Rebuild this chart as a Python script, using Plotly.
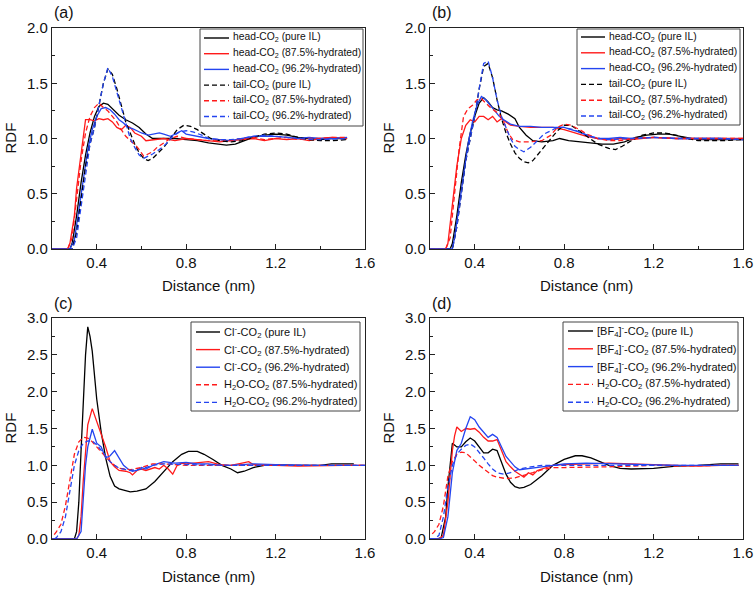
import plotly.graph_objects as go

# ---------------- Panel (a) ----------------
a_head_pure_x = [0.2, 0.28, 0.29, 0.31, 0.33, 0.35, 0.37, 0.39, 0.41, 0.43, 0.45, 0.47, 0.50, 0.53, 0.56, 0.59, 0.62, 0.65, 0.70, 0.75, 0.80, 0.85, 0.90, 0.95, 0.98, 1.02, 1.06, 1.10, 1.15, 1.20, 1.25, 1.30, 1.35, 1.40, 1.45, 1.52]
a_head_pure_y = [0, 0, 0.05, 0.30, 0.60, 0.85, 1.05, 1.20, 1.29, 1.32, 1.31, 1.27, 1.21, 1.17, 1.14, 1.10, 1.04, 1.00, 1.00, 1.00, 0.99, 0.98, 0.96, 0.95, 0.94, 0.95, 0.98, 1.01, 1.03, 1.04, 1.03, 1.01, 1.00, 0.99, 1.00, 1.00]

a_head_875_x = [0.2, 0.27, 0.28, 0.30, 0.31, 0.32, 0.33, 0.34, 0.35, 0.37, 0.39, 0.41, 0.43, 0.45, 0.47, 0.49, 0.51, 0.53, 0.55, 0.57, 0.60, 0.62, 0.65, 0.70, 0.75, 0.80, 0.85, 0.90, 0.95, 1.00, 1.05, 1.10, 1.15, 1.20, 1.25, 1.30, 1.35, 1.40, 1.45, 1.52]
a_head_875_y = [0, 0, 0.05, 0.30, 0.55, 0.70, 0.85, 1.00, 1.17, 1.17, 1.16, 1.18, 1.17, 1.18, 1.15, 1.10, 1.08, 1.12, 1.10, 1.05, 1.02, 0.98, 0.99, 1.00, 0.98, 1.00, 0.99, 0.98, 0.97, 0.98, 0.99, 1.00, 0.98, 1.00, 0.99, 1.00, 0.98, 1.00, 1.01, 1.00]

a_head_962_x = [0.2, 0.28, 0.30, 0.32, 0.34, 0.36, 0.38, 0.40, 0.42, 0.44, 0.46, 0.48, 0.50, 0.52, 0.54, 0.56, 0.58, 0.60, 0.63, 0.66, 0.68, 0.70, 0.73, 0.76, 0.78, 0.80, 0.85, 0.90, 0.95, 1.00, 1.05, 1.10, 1.15, 1.20, 1.25, 1.30, 1.35, 1.40, 1.45, 1.52]
a_head_962_y = [0, 0, 0.08, 0.35, 0.65, 0.90, 1.08, 1.20, 1.27, 1.28, 1.26, 1.22, 1.17, 1.14, 1.10, 1.09, 1.07, 1.05, 1.03, 1.04, 1.05, 1.04, 1.02, 1.05, 1.07, 1.04, 1.02, 1.00, 0.99, 0.98, 1.00, 1.02, 1.02, 1.02, 1.01, 1.00, 1.01, 1.00, 1.00, 1.01]

a_tail_pure_x = [0.2, 0.29, 0.31, 0.33, 0.35, 0.37, 0.39, 0.41, 0.43, 0.45, 0.47, 0.49, 0.51, 0.53, 0.55, 0.57, 0.59, 0.61, 0.63, 0.65, 0.67, 0.70, 0.73, 0.76, 0.79, 0.82, 0.85, 0.88, 0.91, 0.95, 1.00, 1.05, 1.10, 1.15, 1.20, 1.25, 1.30, 1.35, 1.40, 1.45, 1.52]
a_tail_pure_y = [0, 0, 0.15, 0.45, 0.75, 0.95, 1.10, 1.30, 1.50, 1.63, 1.58, 1.45, 1.30, 1.15, 1.05, 0.95, 0.87, 0.82, 0.80, 0.82, 0.86, 0.92, 1.00, 1.08, 1.12, 1.11, 1.08, 1.04, 1.00, 0.98, 0.97, 0.98, 1.01, 1.04, 1.05, 1.04, 1.01, 0.99, 0.98, 0.98, 0.99]

a_tail_875_x = [0.2, 0.27, 0.29, 0.31, 0.33, 0.35, 0.37, 0.39, 0.41, 0.43, 0.45, 0.47, 0.49, 0.51, 0.53, 0.55, 0.57, 0.59, 0.61, 0.63, 0.65, 0.67, 0.70, 0.73, 0.76, 0.80, 0.85, 0.90, 0.95, 1.00, 1.05, 1.10, 1.15, 1.20, 1.25, 1.30, 1.35, 1.40, 1.45, 1.52]
a_tail_875_y = [0, 0, 0.10, 0.45, 0.80, 1.05, 1.20, 1.28, 1.32, 1.28, 1.25, 1.20, 1.15, 1.08, 1.02, 0.98, 0.95, 0.90, 0.84, 0.86, 0.88, 0.92, 0.96, 1.00, 1.02, 1.00, 0.99, 0.98, 0.99, 0.98, 1.00, 1.01, 0.99, 1.00, 1.01, 0.99, 1.00, 1.00, 1.01, 1.01]

a_tail_962_x = [0.2, 0.29, 0.31, 0.33, 0.35, 0.37, 0.39, 0.41, 0.43, 0.45, 0.47, 0.49, 0.51, 0.53, 0.55, 0.57, 0.59, 0.61, 0.63, 0.65, 0.68, 0.71, 0.74, 0.77, 0.80, 0.83, 0.87, 0.90, 0.95, 1.00, 1.05, 1.10, 1.15, 1.20, 1.25, 1.30, 1.40, 1.52]
a_tail_962_y = [0, 0, 0.10, 0.40, 0.70, 0.95, 1.10, 1.30, 1.50, 1.64, 1.56, 1.42, 1.28, 1.12, 1.00, 0.92, 0.85, 0.82, 0.84, 0.86, 0.90, 0.95, 1.02, 1.06, 1.07, 1.06, 1.03, 1.00, 0.99, 0.99, 1.00, 1.02, 1.03, 1.02, 1.01, 1.00, 0.99, 1.00]

# ---------------- Panel (b) ----------------
b_head_pure_x = [0.2, 0.29, 0.30, 0.32, 0.34, 0.36, 0.38, 0.40, 0.42, 0.44, 0.46, 0.48, 0.50, 0.52, 0.55, 0.58, 0.60, 0.63, 0.66, 0.70, 0.75, 0.78, 0.82, 0.87, 0.92, 0.97, 1.02, 1.07, 1.12, 1.17, 1.22, 1.27, 1.32, 1.37, 1.42, 1.50, 1.60]
b_head_pure_y = [0, 0, 0.05, 0.30, 0.60, 0.85, 1.05, 1.20, 1.32, 1.37, 1.33, 1.28, 1.26, 1.25, 1.22, 1.18, 1.10, 1.03, 0.98, 0.97, 0.98, 1.00, 0.98, 0.97, 0.96, 0.95, 0.95, 0.97, 1.01, 1.03, 1.04, 1.04, 1.02, 1.00, 0.99, 0.99, 0.99]

b_head_875_x = [0.2, 0.27, 0.28, 0.30, 0.32, 0.34, 0.36, 0.38, 0.40, 0.42, 0.44, 0.46, 0.48, 0.50, 0.52, 0.54, 0.56, 0.60, 0.65, 0.70, 0.75, 0.80, 0.85, 0.90, 0.95, 1.00, 1.05, 1.10, 1.20, 1.30, 1.40, 1.50, 1.60]
b_head_875_y = [0, 0, 0.05, 0.40, 0.75, 1.00, 1.12, 1.17, 1.15, 1.20, 1.20, 1.17, 1.20, 1.15, 1.18, 1.15, 1.12, 1.11, 1.10, 1.10, 1.10, 1.08, 1.05, 1.02, 1.00, 0.99, 1.00, 0.99, 1.01, 1.00, 1.00, 1.00, 1.00]

b_head_962_x = [0.2, 0.30, 0.31, 0.33, 0.35, 0.37, 0.39, 0.41, 0.43, 0.45, 0.47, 0.49, 0.51, 0.53, 0.56, 0.60, 0.65, 0.70, 0.75, 0.80, 0.85, 0.90, 0.95, 1.00, 1.05, 1.10, 1.20, 1.30, 1.40, 1.50, 1.60]
b_head_962_y = [0, 0, 0.10, 0.40, 0.70, 0.95, 1.15, 1.30, 1.38, 1.35, 1.30, 1.25, 1.20, 1.17, 1.13, 1.11, 1.11, 1.10, 1.10, 1.10, 1.07, 1.03, 1.00, 1.00, 1.01, 1.00, 1.01, 1.00, 1.00, 1.00, 0.99]

b_tail_pure_x = [0.2, 0.30, 0.32, 0.34, 0.36, 0.38, 0.40, 0.42, 0.44, 0.46, 0.48, 0.50, 0.52, 0.54, 0.56, 0.58, 0.60, 0.62, 0.64, 0.66, 0.68, 0.71, 0.74, 0.77, 0.80, 0.83, 0.86, 0.90, 0.95, 1.00, 1.03, 1.06, 1.10, 1.15, 1.20, 1.25, 1.30, 1.35, 1.40, 1.50, 1.60]
b_tail_pure_y = [0, 0, 0.20, 0.50, 0.80, 1.00, 1.20, 1.45, 1.65, 1.68, 1.55, 1.35, 1.18, 1.05, 0.95, 0.87, 0.82, 0.79, 0.78, 0.80, 0.85, 0.92, 1.00, 1.07, 1.12, 1.12, 1.08, 1.02, 0.95, 0.91, 0.90, 0.93, 0.98, 1.03, 1.05, 1.05, 1.03, 1.00, 0.98, 0.98, 0.99]

b_tail_875_x = [0.2, 0.27, 0.29, 0.31, 0.33, 0.35, 0.37, 0.39, 0.41, 0.43, 0.45, 0.47, 0.49, 0.51, 0.53, 0.55, 0.57, 0.60, 0.65, 0.70, 0.74, 0.77, 0.80, 0.83, 0.87, 0.90, 0.95, 1.00, 1.05, 1.10, 1.20, 1.30, 1.40, 1.50, 1.60]
b_tail_875_y = [0, 0, 0.10, 0.50, 0.90, 1.20, 1.27, 1.30, 1.35, 1.36, 1.32, 1.28, 1.25, 1.22, 1.15, 1.05, 0.99, 0.97, 0.97, 0.98, 1.03, 1.10, 1.13, 1.12, 1.08, 1.04, 1.00, 0.98, 0.98, 1.00, 1.01, 1.00, 1.00, 1.00, 1.00]

b_tail_962_x = [0.2, 0.30, 0.32, 0.34, 0.36, 0.38, 0.40, 0.42, 0.44, 0.46, 0.48, 0.50, 0.52, 0.54, 0.56, 0.58, 0.60, 0.62, 0.65, 0.68, 0.71, 0.74, 0.77, 0.80, 0.84, 0.88, 0.92, 0.96, 1.00, 1.10, 1.20, 1.30, 1.40, 1.50, 1.60]
b_tail_962_y = [0, 0, 0.20, 0.50, 0.80, 1.00, 1.20, 1.45, 1.68, 1.70, 1.55, 1.35, 1.20, 1.10, 1.00, 0.93, 0.90, 0.88, 0.92, 0.98, 1.04, 1.07, 1.10, 1.10, 1.08, 1.05, 1.02, 1.00, 0.99, 1.00, 1.01, 1.00, 1.00, 1.00, 0.99]

# ---------------- Panel (c) ----------------
c_cl_pure_x = [0.2, 0.30, 0.31, 0.32, 0.33, 0.34, 0.35, 0.36, 0.37, 0.38, 0.39, 0.40, 0.42, 0.44, 0.46, 0.48, 0.50, 0.52, 0.55, 0.58, 0.62, 0.66, 0.70, 0.74, 0.78, 0.81, 0.85, 0.88, 0.92, 0.96, 1.00, 1.03, 1.06, 1.10, 1.15, 1.20, 1.30, 1.40, 1.45, 1.50, 1.55]
c_cl_pure_y = [0, 0, 0.10, 0.50, 1.20, 1.90, 2.50, 2.88, 2.75, 2.55, 2.20, 1.90, 1.45, 1.10, 0.85, 0.72, 0.68, 0.66, 0.64, 0.65, 0.68, 0.78, 0.92, 1.05, 1.15, 1.19, 1.19, 1.15, 1.08, 1.00, 0.95, 0.90, 0.92, 0.97, 1.00, 1.01, 1.00, 1.00, 1.02, 1.02, 1.02]

c_cl_875_x = [0.2, 0.31, 0.32, 0.33, 0.34, 0.35, 0.36, 0.38, 0.40, 0.42, 0.44, 0.46, 0.48, 0.50, 0.53, 0.55, 0.56, 0.58, 0.60, 0.62, 0.64, 0.66, 0.68, 0.70, 0.72, 0.74, 0.76, 0.78, 0.80, 0.85, 0.90, 0.95, 1.00, 1.05, 1.08, 1.10, 1.15, 1.20, 1.30, 1.40, 1.50, 1.60]
c_cl_875_y = [0, 0, 0.05, 0.30, 0.80, 1.20, 1.55, 1.77, 1.60, 1.45, 1.25, 1.05, 0.98, 0.93, 0.92, 0.90, 0.87, 0.93, 0.95, 0.93, 0.95, 0.97, 0.95, 1.00, 0.95, 0.88, 1.00, 1.03, 1.02, 1.03, 1.05, 1.01, 1.00, 1.03, 1.05, 1.01, 1.00, 1.00, 0.99, 1.00, 1.00, 1.00]

c_cl_962_x = [0.2, 0.31, 0.33, 0.34, 0.35, 0.36, 0.38, 0.40, 0.42, 0.44, 0.46, 0.48, 0.50, 0.52, 0.54, 0.56, 0.58, 0.60, 0.62, 0.65, 0.70, 0.75, 0.80, 0.85, 0.90, 0.95, 1.00, 1.10, 1.20, 1.30, 1.40, 1.50, 1.60]
c_cl_962_y = [0, 0, 0.10, 0.50, 1.00, 1.25, 1.49, 1.30, 1.25, 1.10, 1.13, 1.20, 1.10, 1.00, 0.95, 0.92, 0.93, 0.97, 0.95, 1.00, 1.05, 1.03, 1.04, 1.02, 1.02, 1.00, 1.00, 1.02, 1.01, 1.00, 1.00, 1.00, 1.00]

c_h2o_875_x = [0.21, 0.22, 0.24, 0.26, 0.28, 0.30, 0.32, 0.34, 0.36, 0.38, 0.40, 0.42, 0.44, 0.46, 0.48, 0.50, 0.55, 0.60, 0.65, 0.70, 0.80, 0.90, 1.00, 1.10, 1.20, 1.30, 1.40, 1.50, 1.60]
c_h2o_875_y = [0.06, 0.10, 0.20, 0.45, 0.80, 1.15, 1.32, 1.38, 1.37, 1.32, 1.25, 1.18, 1.12, 1.05, 1.00, 0.96, 0.94, 0.97, 1.02, 1.02, 1.00, 1.00, 1.00, 1.00, 1.00, 0.99, 1.00, 1.00, 1.00]

c_h2o_962_x = [0.21, 0.22, 0.24, 0.26, 0.28, 0.30, 0.32, 0.34, 0.36, 0.38, 0.40, 0.42, 0.44, 0.46, 0.48, 0.50, 0.55, 0.60, 0.65, 0.70, 0.80, 0.90, 1.00, 1.10, 1.20, 1.30, 1.40, 1.50, 1.60]
c_h2o_962_y = [0.0, 0.02, 0.10, 0.30, 0.65, 1.00, 1.20, 1.30, 1.33, 1.33, 1.28, 1.20, 1.12, 1.05, 1.00, 0.96, 0.93, 0.95, 1.00, 1.02, 1.01, 1.00, 1.00, 1.00, 1.00, 1.00, 1.00, 1.00, 1.00]

# ---------------- Panel (d) ----------------
d_bf4_pure_x = [0.2, 0.23, 0.25, 0.27, 0.28, 0.29, 0.30, 0.32, 0.34, 0.36, 0.38, 0.40, 0.42, 0.44, 0.46, 0.48, 0.50, 0.52, 0.54, 0.56, 0.58, 0.60, 0.62, 0.65, 0.70, 0.75, 0.80, 0.85, 0.88, 0.92, 0.96, 1.00, 1.05, 1.10, 1.20, 1.30, 1.40, 1.50, 1.58]
d_bf4_pure_y = [0, 0, 0.02, 0.30, 0.70, 1.05, 1.30, 1.25, 1.25, 1.32, 1.37, 1.33, 1.25, 1.17, 1.17, 1.22, 1.20, 1.05, 0.88, 0.77, 0.71, 0.69, 0.70, 0.74, 0.86, 1.00, 1.08, 1.13, 1.13, 1.10, 1.05, 1.00, 0.96, 0.95, 0.96, 0.99, 1.00, 1.02, 1.02]

d_bf4_875_x = [0.2, 0.24, 0.26, 0.28, 0.30, 0.31, 0.32, 0.34, 0.36, 0.38, 0.40, 0.42, 0.44, 0.46, 0.48, 0.50, 0.52, 0.54, 0.56, 0.58, 0.60, 0.62, 0.64, 0.66, 0.68, 0.70, 0.75, 0.80, 0.90, 1.00, 1.10, 1.20, 1.30, 1.40, 1.50, 1.58]
d_bf4_875_y = [0, 0, 0.05, 0.50, 1.20, 1.40, 1.52, 1.46, 1.50, 1.49, 1.50, 1.45, 1.38, 1.33, 1.33, 1.35, 1.20, 1.05, 0.98, 0.92, 0.88, 0.84, 0.90, 0.87, 0.93, 0.95, 1.00, 1.01, 1.02, 1.03, 1.02, 1.01, 1.00, 0.99, 1.00, 1.00]

d_bf4_962_x = [0.2, 0.24, 0.26, 0.28, 0.30, 0.32, 0.34, 0.36, 0.38, 0.40, 0.42, 0.44, 0.46, 0.48, 0.50, 0.52, 0.54, 0.56, 0.58, 0.60, 0.62, 0.65, 0.70, 0.75, 0.80, 0.90, 1.00, 1.10, 1.20, 1.30, 1.40, 1.50, 1.58]
d_bf4_962_y = [0, 0, 0.02, 0.30, 0.90, 1.20, 1.30, 1.50, 1.66, 1.62, 1.52, 1.45, 1.38, 1.42, 1.38, 1.25, 1.12, 1.05, 0.98, 0.94, 0.95, 0.96, 0.98, 1.00, 1.02, 1.03, 1.02, 1.02, 1.01, 1.00, 1.00, 1.00, 1.00]

d_h2o_875_x = [0.21, 0.22, 0.24, 0.26, 0.28, 0.30, 0.32, 0.34, 0.36, 0.38, 0.40, 0.42, 0.44, 0.46, 0.48, 0.50, 0.54, 0.58, 0.62, 0.66, 0.70, 0.75, 0.80, 0.90, 1.00, 1.10, 1.20, 1.30, 1.40, 1.50, 1.58]
d_h2o_875_y = [0.07, 0.10, 0.20, 0.45, 0.85, 1.05, 1.15, 1.18, 1.17, 1.12, 1.06, 1.00, 0.95, 0.90, 0.86, 0.84, 0.82, 0.83, 0.86, 0.90, 0.94, 0.97, 0.97, 0.97, 0.98, 0.99, 1.00, 0.99, 1.00, 1.00, 1.00]

d_h2o_962_x = [0.2, 0.22, 0.24, 0.26, 0.28, 0.30, 0.32, 0.34, 0.36, 0.38, 0.40, 0.42, 0.44, 0.46, 0.48, 0.50, 0.53, 0.56, 0.60, 0.65, 0.70, 0.80, 0.90, 1.00, 1.10, 1.20, 1.30, 1.40, 1.50, 1.58]
d_h2o_962_y = [0, 0, 0.05, 0.30, 0.70, 1.00, 1.15, 1.22, 1.27, 1.29, 1.25, 1.18, 1.10, 1.02, 0.95, 0.90, 0.88, 0.90, 0.95, 0.98, 1.00, 1.00, 1.00, 0.99, 0.99, 1.00, 1.00, 1.00, 1.00, 1.00]

x_tick_vals = [0.4, 0.8, 1.2, 1.6]
panel_labels = ["(a)", "(b)", "(c)", "(d)"]
x_title = "Distance (nm)"
y_title = "RDF"

BLACK = "#000000"
RED = "#ff1a1a"
BLUE = "#2445f0"
CO2 = "CO<sub>2</sub>"

panels = [
    ("x", "y", [
        (a_head_pure_x, a_head_pure_y, f"head-{CO2} (pure IL)", BLACK, "solid"),
        (a_head_875_x, a_head_875_y, f"head-{CO2} (87.5%-hydrated)", RED, "solid"),
        (a_head_962_x, a_head_962_y, f"head-{CO2} (96.2%-hydrated)", BLUE, "solid"),
        (a_tail_pure_x, a_tail_pure_y, f"tail-{CO2} (pure IL)", BLACK, "dash"),
        (a_tail_875_x, a_tail_875_y, f"tail-{CO2} (87.5%-hydrated)", RED, "dash"),
        (a_tail_962_x, a_tail_962_y, f"tail-{CO2} (96.2%-hydrated)", BLUE, "dash"),
    ]),
    ("x2", "y2", [
        (b_head_pure_x, b_head_pure_y, f"head-{CO2} (pure IL)", BLACK, "solid"),
        (b_head_875_x, b_head_875_y, f"head-{CO2} (87.5%-hydrated)", RED, "solid"),
        (b_head_962_x, b_head_962_y, f"head-{CO2} (96.2%-hydrated)", BLUE, "solid"),
        (b_tail_pure_x, b_tail_pure_y, f"tail-{CO2} (pure IL)", BLACK, "dash"),
        (b_tail_875_x, b_tail_875_y, f"tail-{CO2} (87.5%-hydrated)", RED, "dash"),
        (b_tail_962_x, b_tail_962_y, f"tail-{CO2} (96.2%-hydrated)", BLUE, "dash"),
    ]),
    ("x3", "y3", [
        (c_cl_pure_x, c_cl_pure_y, f"Cl<sup>-</sup>-{CO2} (pure IL)", BLACK, "solid"),
        (c_cl_875_x, c_cl_875_y, f"Cl<sup>-</sup>-{CO2} (87.5%-hydrated)", RED, "solid"),
        (c_cl_962_x, c_cl_962_y, f"Cl<sup>-</sup>-{CO2} (96.2%-hydrated)", BLUE, "solid"),
        (c_h2o_875_x, c_h2o_875_y, f"H<sub>2</sub>O-{CO2} (87.5%-hydrated)", RED, "dash"),
        (c_h2o_962_x, c_h2o_962_y, f"H<sub>2</sub>O-{CO2} (96.2%-hydrated)", BLUE, "dash"),
    ]),
    ("x4", "y4", [
        (d_bf4_pure_x, d_bf4_pure_y, f"[BF<sub>4</sub>]<sup>-</sup>-{CO2} (pure IL)", BLACK, "solid"),
        (d_bf4_875_x, d_bf4_875_y, f"[BF<sub>4</sub>]<sup>-</sup>-{CO2} (87.5%-hydrated)", RED, "solid"),
        (d_bf4_962_x, d_bf4_962_y, f"[BF<sub>4</sub>]<sup>-</sup>-{CO2} (96.2%-hydrated)", BLUE, "solid"),
        (d_h2o_875_x, d_h2o_875_y, f"H<sub>2</sub>O-{CO2} (87.5%-hydrated)", RED, "dash"),
        (d_h2o_962_x, d_h2o_962_y, f"H<sub>2</sub>O-{CO2} (96.2%-hydrated)", BLUE, "dash"),
    ]),
]

W, H = 756, 589
FONT = "Liberation Sans, Arial, sans-serif"
TXT = "#111111"
AX = "#222222"
DASH = "5px,3px"

fig = go.Figure()
for xa, ya, series in panels:
    for xs, ys, name, color, dash in series:
        fig.add_trace(go.Scatter(
            x=xs, y=ys, mode="lines", name=name, xaxis=xa, yaxis=ya, showlegend=False,
            line=dict(color=color, width=1.3, dash=(DASH if dash == "dash" else "solid")),
        ))

def px_x(p):
    return p / W

def px_y(p):
    return 1 - p / H

# panel geometry in pixels: (left, right, top, bottom, ymax)
geom = [(52, 365, 28, 249, 2.0), (430, 743, 28, 249, 2.0),
        (52, 365, 318, 539, 3.0), (430, 743, 318, 539, 3.0)]

layout_axes = {}
annotations = []
shapes = []
for i, (x0, x1, y0, y1, ymax) in enumerate(geom):
    sfx = "" if i == 0 else str(i + 1)
    common = dict(showline=True, linecolor=AX, linewidth=1.3, mirror=True,
                  ticks="inside", ticklen=5, tickwidth=1.2, tickcolor=AX,
                  showgrid=False, zeroline=False, automargin=False,
                  tickfont=dict(family=FONT, size=15, color=TXT))
    layout_axes["xaxis" + sfx] = dict(common, domain=[px_x(x0), px_x(x1)], anchor="y" + sfx,
                                      range=[0.2, 1.6], tickvals=x_tick_vals, tickformat=".1f",
                                      minor=dict(tickvals=[0.2, 0.6, 1.0, 1.4], ticks="inside", ticklen=3, tickcolor=AX))
    layout_axes["yaxis" + sfx] = dict(common, domain=[px_y(y1), px_y(y0)], anchor="x" + sfx,
                                      range=[0, ymax], dtick=0.5, tick0=0, tickformat=".1f",
                                      minor=dict(dtick=0.25, ticks="inside", ticklen=3, tickcolor=AX))
    # axis titles
    annotations.append(dict(text=x_title, x=px_x((x0 + x1) / 2), y=px_y(y1 + 37), xref="paper", yref="paper",
                            xanchor="center", yanchor="middle", showarrow=False,
                            font=dict(family=FONT, size=15, color=TXT)))
    annotations.append(dict(text=y_title, x=px_x(x0 - 42), y=px_y((y0 + y1) / 2), xref="paper", yref="paper",
                            xanchor="center", yanchor="middle", showarrow=False, textangle=-90,
                            font=dict(family=FONT, size=15, color=TXT)))
    # panel label
    annotations.append(dict(text=panel_labels[i], x=px_x(x0), y=px_y(y0 - 15), xref="paper", yref="paper",
                            xanchor="left", yanchor="middle", showarrow=False,
                            font=dict(family=FONT, size=16, color=TXT)))

# legend boxes drawn in pixel geometry: (box_l, box_r, box_t, box_b, sample_l, sample_r, text_l, first_row, row_step, font)
legend_geom = [
    (200, 363, 29, 126, 204, 229, 231, 38, 15.7, 10.3),
    (577, 740, 29, 125, 581, 605, 607, 37, 15.8, 10.3),
    (191, 360, 322, 411, 196, 220, 222, 332, 17.6, 11),
    (563, 738, 322, 411, 568, 593, 595, 331, 17.8, 11),
]
for (xa, ya, series), (bl, br, bt, bb, sl, sr, tl, r0, step, fs) in zip(panels, legend_geom):
    shapes.append(dict(type="rect", xref="paper", yref="paper", layer="above",
                       x0=px_x(bl), x1=px_x(br), y0=px_y(bb), y1=px_y(bt),
                       fillcolor="white", line=dict(color="#444444", width=1)))
    for k, (_, _, name, color, dash) in enumerate(series):
        ry = r0 + k * step
        shapes.append(dict(type="line", xref="paper", yref="paper", layer="above",
                           x0=px_x(sl), x1=px_x(sr), y0=px_y(ry), y1=px_y(ry),
                           line=dict(color=color, width=1.4, dash=(DASH if dash == "dash" else "solid"))))
        annotations.append(dict(text=name, x=px_x(tl), y=px_y(ry), xref="paper", yref="paper",
                                xanchor="left", yanchor="middle", showarrow=False,
                                font=dict(family=FONT, size=fs, color=TXT)))

fig.update_layout(width=W, height=H, margin=dict(l=0, r=0, t=0, b=0, autoexpand=False),
                  paper_bgcolor="white", plot_bgcolor="white", showlegend=False,
                  annotations=annotations, shapes=shapes, **layout_axes)

# the page's default 8px body margin would offset the figure inside the 756x589 window
fig.write_html("out.html", config={"displayModeBar": False},
               post_script="document.body.style.margin='0';document.body.style.overflow='hidden';")
